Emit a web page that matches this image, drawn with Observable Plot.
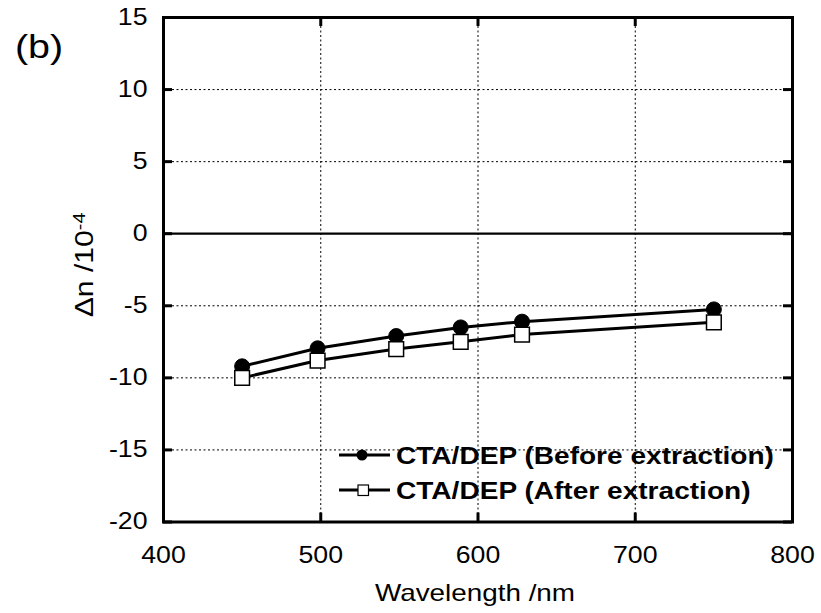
<!DOCTYPE html>
<html>
<head>
<meta charset="utf-8">
<script src="https://cdn.jsdelivr.net/npm/d3@7"></script>
<script src="https://cdn.jsdelivr.net/npm/@observablehq/plot@0.6"></script>
<style>
  html, body { margin: 0; padding: 0; background: #fff; }
  #chart svg { display: block; background: #fff; }
</style>
</head>
<body>
<div id="chart"></div>
<script>
// ---- data ----
const wavelengths = [450, 498, 548, 589, 628, 750];
const beforeExtraction = [-9.2, -7.95, -7.1, -6.5, -6.1, -5.25];
const afterExtraction = [-10.0, -8.8, -8.0, -7.5, -7.0, -6.15];
const xTicks = [400, 500, 600, 700, 800];
const yTicks = [-20, -15, -10, -5, 0, 5, 10, 15];
const seriesNames = ["CTA/DEP (Before extraction)", "CTA/DEP (After extraction)"];
const panelLabel = "(b)";
const xLabel = "Wavelength /nm";

const beforeRows = wavelengths.map((w, i) => ({w, v: beforeExtraction[i]}));
const afterRows = wavelengths.map((w, i) => ({w, v: afterExtraction[i]}));

const FONT = "'Liberation Sans', Arial, Helvetica, sans-serif";
const STRETCH = 1.16;
const TICK = 9;
const W = 821, H = 613, MT = 17, MB = 91.5, ML = 163, MR = 29;
const innerW = W - ML - MR, innerH = H - MT - MB;
const plainNumber = d => String(d);   // hyphen-minus, as in the reference
const tickStyle = {stroke: "black", strokeWidth: 3};

const chart = Plot.plot({
  width: W,
  height: H,
  marginTop: MT,
  marginBottom: MB,
  marginLeft: ML,
  marginRight: MR,
  style: {fontFamily: FONT, fontSize: "23px", color: "black", background: "white"},
  x: {domain: [400, 800], ticks: xTicks},
  y: {domain: [-20, 15], ticks: yTicks},
  marks: [
    Plot.ruleX(xTicks.slice(1, -1), {stroke: "black", strokeWidth: 1, strokeDasharray: "2,2.5"}),
    Plot.ruleY(yTicks.filter(d => d !== 0 && d > -20 && d < 15), {stroke: "black", strokeWidth: 1, strokeDasharray: "2,2.5"}),
    Plot.ruleY([0], {stroke: "black", strokeWidth: 2.2}),
    Plot.axisX(xTicks, {anchor: "bottom", tickSize: 0, tickPadding: 25, label: null, fontSize: 23, tickFormat: plainNumber}),
    Plot.axisY(yTicks, {anchor: "left", tickSize: 0, tickPadding: 16, label: null, fontSize: 23, tickFormat: plainNumber}),
    // inward ticks on all four sides
    Plot.ruleX(xTicks, {...tickStyle, insetTop: innerH - TICK}),
    Plot.ruleX(xTicks, {...tickStyle, insetBottom: innerH - TICK}),
    Plot.ruleY(yTicks, {...tickStyle, insetRight: innerW - TICK}),
    Plot.ruleY(yTicks, {...tickStyle, insetLeft: innerW - TICK}),
    Plot.line(beforeRows, {x: "w", y: "v", stroke: "black", strokeWidth: 3}),
    Plot.line(afterRows, {x: "w", y: "v", stroke: "black", strokeWidth: 3}),
    Plot.dot(beforeRows, {x: "w", y: "v", r: 7.5, fill: "black", stroke: "black", strokeWidth: 1}),
    Plot.dot(afterRows, {x: "w", y: "v", symbol: "square", r: 8.3, fill: "white", stroke: "black", strokeWidth: 1.5}),
    Plot.frame({stroke: "black", strokeWidth: 3})
  ]
});

document.getElementById("chart").appendChild(chart);
const svg = d3.select(chart);

// widen text along its direction around its anchor point
function stretchText(sel, k = STRETCH) {
  sel.each(function () {
    const t = this.getAttribute("transform") || "";
    const x = parseFloat(this.getAttribute("x")) || 0;
    this.setAttribute("transform", `${t} translate(${x},0) scale(${k},1) translate(${-x},0)`);
  });
}
stretchText(svg.selectAll("g[aria-label$='tick label'] text"));

// panel label
svg.append("text")
  .attr("x", 15).attr("y", 58)
  .attr("text-anchor", "start")
  .attr("font-family", FONT).attr("font-size", 34).attr("fill", "black")
  .text(panelLabel)
  .call(stretchText);

// x axis title
svg.append("text")
  .attr("x", 475).attr("y", 601)
  .attr("text-anchor", "middle")
  .attr("font-family", FONT).attr("font-size", 24).attr("fill", "black")
  .text(xLabel)
  .call(stretchText);

// y axis title with superscript
const yl = svg.append("text")
  .attr("transform", `translate(93,265) rotate(-90) scale(${STRETCH},1)`)
  .attr("text-anchor", "middle")
  .attr("font-family", FONT).attr("font-size", 26).attr("fill", "black");
yl.append("tspan").text("\u0394n /10");
yl.append("tspan").attr("dy", "-0.5em").attr("font-size", 17).text("-4");

// legend
const legend = svg.append("g").attr("font-family", FONT).attr("text-anchor", "start");
const legendRows = [
  {name: seriesNames[0], y: 455, symbol: "circle"},
  {name: seriesNames[1], y: 490, symbol: "square"}
];
legendRows.forEach(r => {
  legend.append("line").attr("x1", 339).attr("x2", 390).attr("y1", r.y).attr("y2", r.y)
    .attr("stroke", "black").attr("stroke-width", 3);
  if (r.symbol === "circle") {
    legend.append("circle").attr("cx", 362).attr("cy", r.y).attr("r", 5.5).attr("fill", "black");
  } else {
    legend.append("rect").attr("x", 358).attr("y", r.y - 5).attr("width", 10.5).attr("height", 10.5)
      .attr("fill", "white").attr("stroke", "black").attr("stroke-width", 1.2);
  }
  legend.append("text").attr("x", 396).attr("y", r.y).attr("dy", "0.36em")
    .attr("text-anchor", "start")
    .attr("font-size", 24).attr("font-weight", "bold").attr("fill", "black")
    .text(r.name)
    .call(stretchText, 1.17);
});
</script>
</body>
</html>
